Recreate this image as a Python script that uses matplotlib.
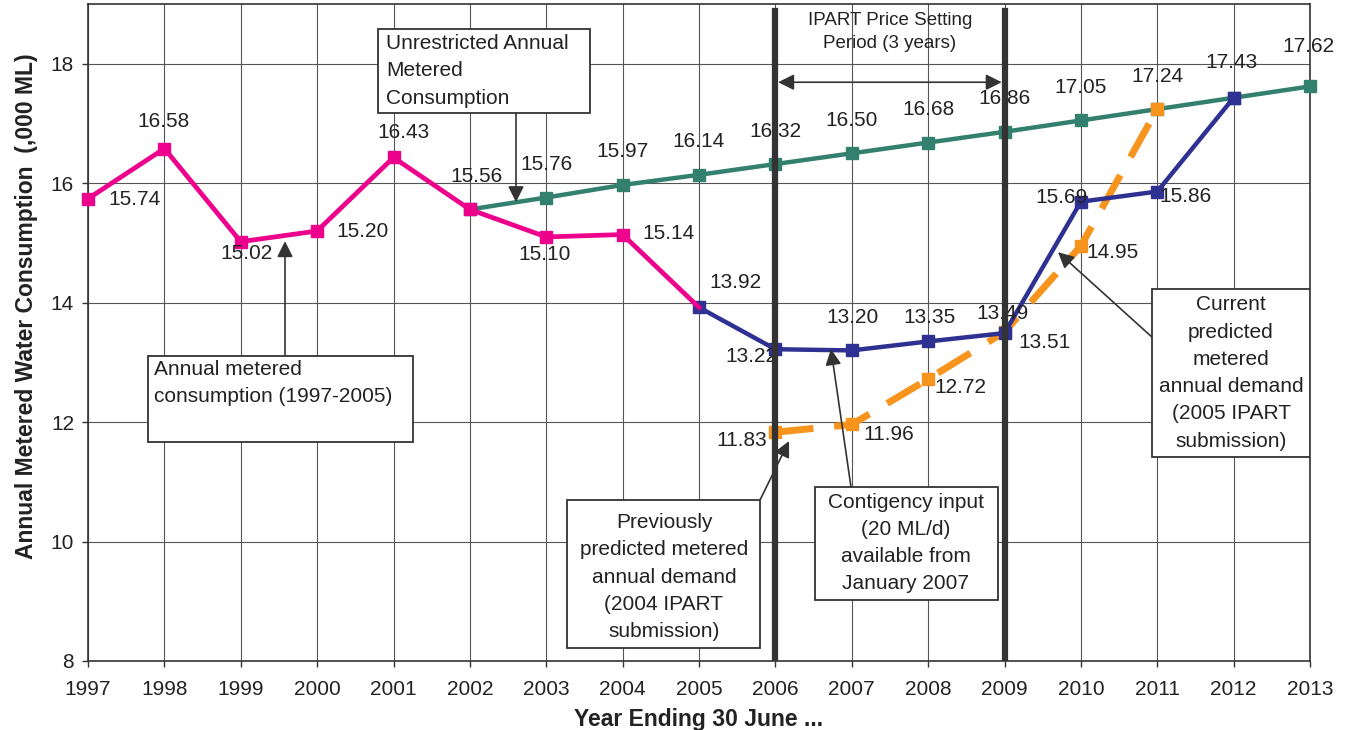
import matplotlib
matplotlib.use('Agg')
import matplotlib.pyplot as plt
from matplotlib.patches import Rectangle

plt.rcParams['font.family'] = ['Liberation Sans', 'DejaVu Sans']

# annual metered consumption 1997-2005
hist_years = [1997, 1998, 1999, 2000, 2001, 2002, 2003, 2004, 2005]
hist_vals = [15.74, 16.58, 15.02, 15.20, 16.43, 15.56, 15.10, 15.14, 13.92]
# current predicted (2005 IPART submission)
cur_years = [2005, 2006, 2007, 2008, 2009, 2010, 2011, 2012]
cur_vals = [13.92, 13.22, 13.20, 13.35, 13.49, 15.69, 15.86, 17.43]
# unrestricted annual metered consumption
unr_years = [2002, 2003, 2004, 2005, 2006, 2007, 2008, 2009, 2010, 2011, 2012, 2013]
unr_vals = [15.56, 15.76, 15.97, 16.14, 16.32, 16.50, 16.68, 16.86, 17.05, 17.24, 17.43, 17.62]
# previously predicted (2004 IPART submission)
prev_years = [2006, 2007, 2008, 2009, 2010, 2011]
prev_vals = [11.83, 11.96, 12.72, 13.51, 14.95, 17.24]

PINK = '#EC008C'
TEAL = '#33806F'
NAVY = '#2E3192'
ORANGE = '#F7941D'
DARK = '#333333'
TXT = '#222222'

fig = plt.figure(figsize=(13.51, 7.30), dpi=100)
ax = fig.add_axes([88 / 1351, 69 / 730, 1222 / 1351, 657 / 730])
ax.set_xlim(1997, 2013)
ax.set_ylim(8, 19)

# pixel helpers (reference picture pixels -> data)
def dx(px):
    return 1997 + (px - 88) / 76.375

def dy(py):
    return 8 + (661 - py) / 59.75

ax.plot(unr_years, unr_vals, color=TEAL, lw=3.2, marker='s', ms=8, zorder=3, clip_on=False)
ax.plot(prev_years, prev_vals, color=ORANGE, lw=5, marker='s', ms=8,
        dashes=(5.5, 3), zorder=4, clip_on=False)
ax.plot(cur_years, cur_vals, color=NAVY, lw=3.2, marker='s', ms=8, zorder=5, clip_on=False)
ax.plot(hist_years, hist_vals, color=PINK, lw=3.4, marker='s', ms=8,
        markevery=list(range(8)), zorder=6, clip_on=False)

# price setting period lines
for yr in [2006, 2009]:
    ax.axvline(yr, ymax=0.99, color=DARK, lw=4.5, zorder=9.5)

ax.annotate('', xy=(2009, dy(82)), xytext=(2006, dy(82)),
            arrowprops=dict(arrowstyle='<|-|>', color=DARK, lw=1.2, mutation_scale=24),
            zorder=8)
ax.text(dx(890), dy(32), 'IPART Price Setting\nPeriod (3 years)', ha='center', va='center',
        fontsize=13.5, linespacing=1.5, color=TXT)

# data labels (offsets in pixels of the reference)
def lab(x, y, s, ox, oy):
    ax.annotate(s, xy=(x, y), xytext=(ox * 0.72, -oy * 0.72), textcoords='offset points',
                ha='center', va='center', fontsize=15, color=TXT, zorder=9)

hist_off = [(47, 1), (-1, -27), (6, 12), (45, 1), (10, -25), (7, -33), (-2, 18), (46, -1)]
for x, y, (ox, oy) in zip(hist_years, hist_vals, hist_off):
    lab(x, y, '%.2f' % y, ox, oy)
lab(2005, 13.92, '13.92', 36, -25)
cur_off = [(-24, 7), (1, -33), (1, -24), (-2, -20), (-19, -4), (28, 5), (-2, -35)]
for x, y, (ox, oy) in zip(cur_years[1:], cur_vals[1:], cur_off):
    lab(x, y, '%.2f' % y, ox, oy)
for x, y in zip(unr_years[1:], unr_vals[1:]):
    if x in (2011, 2012):
        continue
    oy = -40 if x == 2013 else -33
    ox = -2 if x == 2013 else 0
    lab(x, y, '%.2f' % y, ox, oy)
prev_off = [(-34, 8), (37, 10), (32, 8), (40, 11), (32, 7)]
for x, y, (ox, oy) in zip(prev_years, prev_vals, prev_off):
    lab(x, y, '%.2f' % y, ox, oy)
lab(2011, 17.24, '17.24', 0, -33)

# annotation boxes
def box(x0, y0, x1, y1):
    ax.add_patch(Rectangle((dx(x0), dy(y1)), dx(x1) - dx(x0), dy(y0) - dy(y1),
                           facecolor='white', edgecolor=DARK, lw=1.3, zorder=10))

def arrow(x0, y0, x1, y1):
    ax.annotate('', xy=(dx(x1), dy(y1)), xytext=(dx(x0), dy(y0)),
                arrowprops=dict(arrowstyle='-|>', color=DARK, lw=1.2, mutation_scale=24,
                                shrinkA=0, shrinkB=0), zorder=9)

tkw = dict(fontsize=15, color=TXT, zorder=11, linespacing=1.55)

box(378, 29, 590, 113)
arrow(516, 113, 516, 202)
ax.text(dx(386), dy(34), 'Unrestricted Annual\nMetered\nConsumption', ha='left', va='top', **tkw)

box(148, 356, 413, 442)
arrow(285, 356, 285, 241)
ax.text(dx(154), dy(360), 'Annual metered\nconsumption (1997-2005)', ha='left', va='top', **tkw)

arrow(760, 500, 789, 441)
box(567, 500, 760, 648)
ax.text(dx(664), dy(577), 'Previously\npredicted metered\nannual demand\n(2004 IPART\nsubmission)',
        ha='center', va='center', **tkw)

arrow(851, 487, 831, 349)
box(815, 487, 998, 600)
ax.text(dx(906), dy(543), 'Contigency input\n(20 ML/d)\navailable from\nJanuary 2007',
        ha='center', va='center', **tkw)

arrow(1152, 337, 1058, 252)
box(1152, 289, 1310, 457)
ax.text(dx(1231), dy(373), 'Current\npredicted\nmetered\nannual demand\n(2005 IPART\nsubmission)',
        ha='center', va='center', **tkw)

# axes styling
ax.set_xticks(range(1997, 2014))
ax.set_yticks([8, 10, 12, 14, 16, 18])
ax.grid(True, color='#555555', lw=0.8)
ax.set_axisbelow(True)
ax.tick_params(axis='both', labelsize=15, colors=DARK, labelcolor=TXT,
               direction='out', length=4, width=1)
ax.tick_params(axis='x', pad=10)
ax.tick_params(axis='y', pad=6)
for s in ax.spines.values():
    s.set_color(DARK)
    s.set_linewidth(1.2)
ax.set_xlabel('Year Ending 30 June ...', fontsize=16.5, fontweight='bold', color=TXT,
              labelpad=6)
ax.set_ylabel('Annual Metered Water Consumption  (,000 ML)', fontsize=16.5, fontweight='bold',
              color=TXT)
ax.yaxis.set_label_coords(-50 / 1222, 0.54)

fig.savefig('out.png', dpi=100)
